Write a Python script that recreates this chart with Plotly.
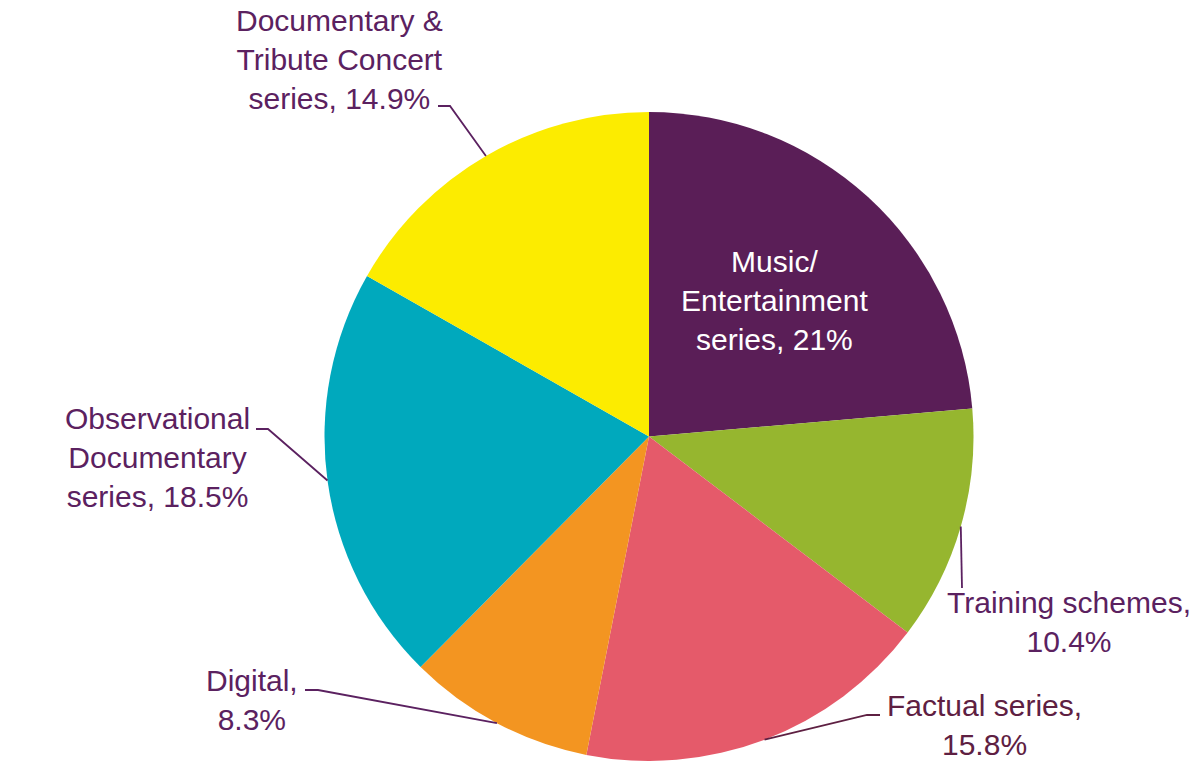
import math
import plotly.graph_objects as go

# Programme categories, their stated shares (%) and slice colours
categories = [
    "Music/Entertainment series",
    "Training schemes",
    "Factual series",
    "Digital",
    "Observational Documentary series",
    "Documentary & Tribute Concert series",
]
shares = [21, 10.4, 15.8, 8.3, 18.5, 14.9]
colors = ["#5A1E57", "#96B62F", "#E55A6A", "#F39521", "#00A9BD", "#FCEC00"]

# How each category name is broken over lines in its label
label_heads = [
    "Music/<br>Entertainment<br>series",
    "Training schemes",
    "Factual series",
    "Digital",
    "Observational<br>Documentary<br>series",
    "Documentary &<br>Tribute Concert<br>series",
]
label_breaks = [" ", "<br>", "<br>", "<br>", " ", " "]
label_colors = ["white", "#5B2160", "#5E2042", "#5B2160", "#5B2160", "#5B2160"]

W, H = 1203, 761
FONT = "Liberation Sans, Arial, sans-serif"
FS = 30

# Pie placement in pixels
PIE_X0, PIE_X1, PIE_TOP = 324, 974, 112
CX = (PIE_X0 + PIE_X1) / 2
R = (H - PIE_TOP) / 2
CY = PIE_TOP + R


def px(x, y):
    return x / W, 1 - y / H


def on_circle(theta_deg, frac=1.0):
    t = math.radians(theta_deg)
    return CX + R * frac * math.sin(t), CY - R * frac * math.cos(t)


total = sum(shares)
mid_angles = []
acc = 0.0
for v in shares:
    mid_angles.append((acc + v / 2) / total * 360)
    acc += v

texts = [f"{h},{b}{v:g}%" for h, b, v in zip(label_heads, label_breaks, shares)]

fig = go.Figure(
    go.Pie(
        labels=categories,
        values=shares,
        sort=False,
        direction="clockwise",
        rotation=0,
        marker=dict(colors=colors, line=dict(width=0)),
        textinfo="none",
        hoverinfo="label+percent",
        showlegend=False,
        domain=dict(x=[PIE_X0 / W, PIE_X1 / W], y=[0, 1 - PIE_TOP / H]),
    )
)

annotations = []
shapes = []

# Inside label for the first slice
mx, my = on_circle(mid_angles[0], 0.57)
ax, ay = px(mx, my)
annotations.append(dict(
    x=ax, y=ay, xref="paper", yref="paper", text=texts[0], showarrow=False,
    xanchor="center", yanchor="middle", align="center",
    font=dict(family=FONT, size=FS, color=label_colors[0]),
))

# Outside labels: text box (x, centre y, anchor side) and where the leader meets it
outside = {
    1: dict(x=945, y=622, side="left", hook=(962, 588), stub=0),
    2: dict(x=885, y=725, side="left", hook=(880, 715), stub=-13),
    3: dict(x=300, y=700, side="right", hook=(305, 690), stub=13),
    4: dict(x=252, y=457, side="right", hook=(256, 429), stub=12),
    5: dict(x=445, y=59, side="right", hook=(438, 106), stub=12),
}

for i, spec in outside.items():
    lx, ly = px(spec["x"], spec["y"])
    annotations.append(dict(
        x=lx, y=ly, xref="paper", yref="paper", text=texts[i], showarrow=False,
        xanchor=spec["side"], yanchor="middle", align="center",
        font=dict(family=FONT, size=FS, color=label_colors[i]),
    ))
    hx, hy = spec["hook"]
    sx = hx + spec["stub"]
    tx, ty = on_circle(mid_angles[i])
    pts = [(hx, hy), (sx, hy), (tx, ty)] if spec["stub"] else [(hx, hy), (tx, ty)]
    path = "M " + " L ".join(f"{px(a, b)[0]:.5f},{px(a, b)[1]:.5f}" for a, b in pts)
    shapes.append(dict(
        type="path", path=path, xref="paper", yref="paper",
        line=dict(color=label_colors[i], width=1.8),
    ))

fig.update_layout(
    width=W, height=H,
    margin=dict(l=0, r=0, t=0, b=0),
    paper_bgcolor="white", plot_bgcolor="white",
    annotations=annotations, shapes=shapes,
)

fig.write_html("out.html")
